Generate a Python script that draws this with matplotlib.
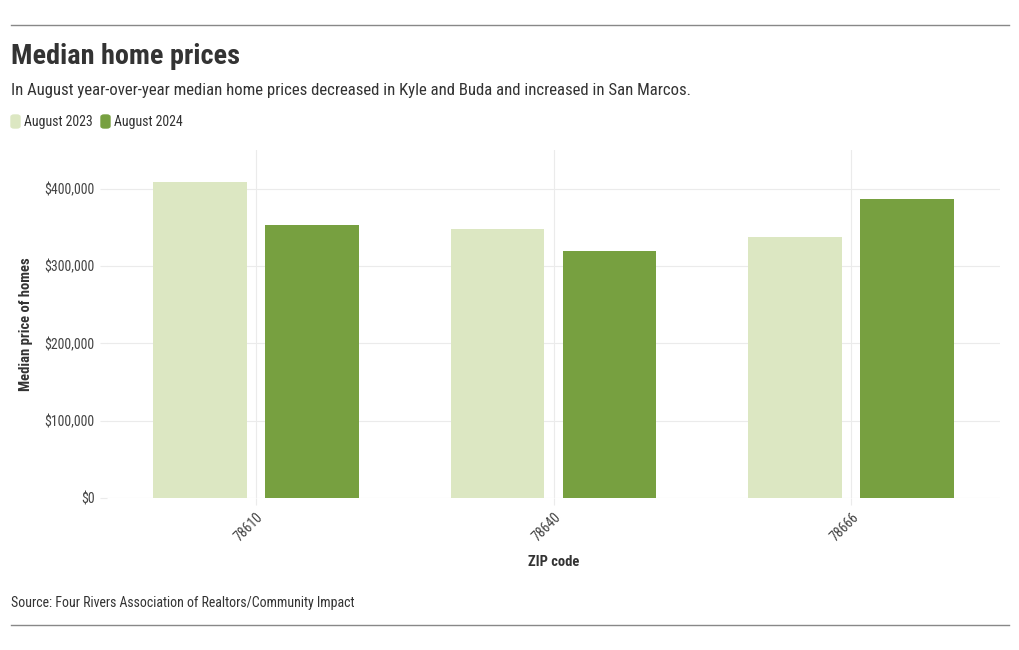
import numpy as np
import matplotlib.pyplot as plt
from matplotlib.ticker import FuncFormatter
from matplotlib.patches import FancyBboxPatch
from matplotlib.lines import Line2D

plt.rcParams['font.family'] = ['Roboto Condensed', 'Roboto', 'DejaVu Sans']

zips = ["78610", "78640", "78666"]
aug2023 = [408000, 348000, 338000]
aug2024 = [353000, 320000, 386000]

lightGreen = "#dce7c2"
darkGreen = "#77a040"
textColor = "#333333"

fig = plt.figure(figsize=(10.2, 6.5), dpi=100)
ax = fig.add_axes([107 / 1020, 152 / 650, 893 / 1020, 348 / 650])

x = np.arange(len(zips))
w = 0.315
ax.bar(x - 0.188, aug2023, width=w, color=lightGreen, zorder=2)
ax.bar(x + 0.188, aug2024, width=w, color=darkGreen, zorder=2)

ax.set_xlim(-0.5, 2.5)
ax.set_ylim(0, 450000)
ax.set_yticks([0, 100000, 200000, 300000, 400000])
ax.yaxis.set_major_formatter(FuncFormatter(lambda v, p: "${:,.0f}".format(v)))
ax.set_xticks(x)
ax.set_xticklabels(zips, rotation=45, ha="right", rotation_mode="anchor")

ax.grid(True, color="#ebebeb", linewidth=0.8, zorder=0)
for s in ax.spines.values():
    s.set_visible(False)
ax.tick_params(axis="both", length=5, color="#ebebeb", labelsize=10, labelcolor="#444444")
ax.tick_params(axis="y", pad=4)

ax.set_xlabel("ZIP code", fontsize=10.5, fontweight="bold", color=textColor, labelpad=8)
ax.set_ylabel("Median price of homes", fontsize=10.5, fontweight="bold", color=textColor, labelpad=8)

fig.text(11 / 1020, 1 - 56 / 650, "Median home prices", fontsize=20.3, fontweight="bold",
         color=textColor, va="center")
fig.text(11 / 1020, 1 - 90 / 650,
         "In August year-over-year median home prices decreased in Kyle and Buda and increased in San Marcos.",
         fontsize=12.1, color=textColor, va="center")

# legend
legendY = 1 - 122 / 650
fig.patches.append(FancyBboxPatch((11 / 1020, legendY - 6 / 650), 9 / 1020, 13 / 650,
                                  boxstyle="round,pad=0,rounding_size=0.003",
                                  transform=fig.transFigure, color=lightGreen))
fig.text(24 / 1020, legendY, "August 2023", fontsize=10, color=textColor, va="center")
fig.patches.append(FancyBboxPatch((101 / 1020, legendY - 6 / 650), 9 / 1020, 13 / 650,
                                  boxstyle="round,pad=0,rounding_size=0.003",
                                  transform=fig.transFigure, color=darkGreen))
fig.text(114 / 1020, legendY, "August 2024", fontsize=10, color=textColor, va="center")

fig.text(11 / 1020, 1 - 603 / 650, "Source: Four Rivers Association of Realtors/Community Impact",
         fontsize=10, color=textColor, va="center")

for yy in [25, 625]:
    fig.add_artist(Line2D([11 / 1020, 1009 / 1020], [1 - yy / 650, 1 - yy / 650],
                          color="#888888", linewidth=1, transform=fig.transFigure))

fig.savefig("out.png", dpi=100)
